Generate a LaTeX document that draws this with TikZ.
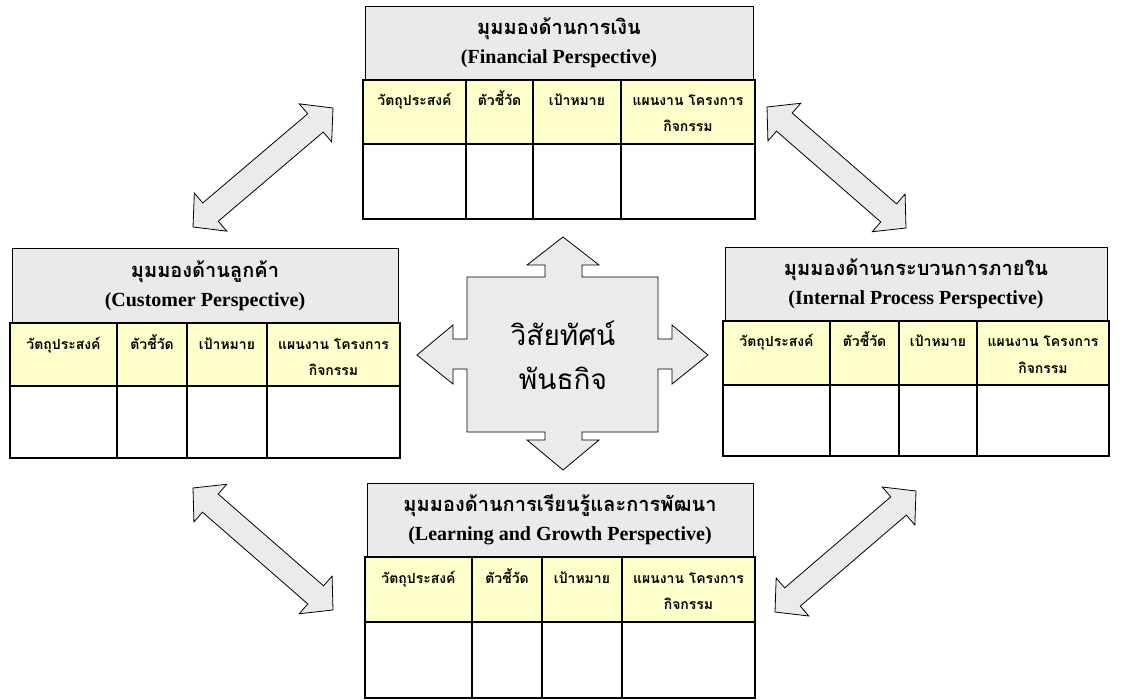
\documentclass[tikz,border=0pt]{standalone}
\usepackage{fontspec}
\setmainfont{Liberation Serif}
\newfontfamily\thaifont[Script=Thai]{Loma}
\usetikzlibrary{calc}
\definecolor{hdrgray}{HTML}{EAEAEA}
\definecolor{arrgray}{HTML}{EBEBEB}
\definecolor{hdryellow}{HTML}{FFFFCC}
\tikzset{
  hdrbox/.style={draw=black,line width=0.9pt,fill=hdrgray},
  outerline/.style={draw=black,line width=2.6pt},
  innerline/.style={draw=black,line width=1.4pt},
  titletext/.style={align=center,inner sep=0pt,font=\fontsize{20}{29}\selectfont\bfseries},
  cellhead/.style={anchor=base,inner sep=0pt,font=\thaifont\fontsize{14}{26}\selectfont\bfseries},
  bigarrow/.style={draw=black,line width=0.8pt,fill=arrgray,line join=miter},
  visiontext/.style={align=center,inner sep=0pt,font=\thaifont\fontsize{28}{44}\selectfont}
}
\def\bscsplit#1/#2/#3\relax{\def\ca{#1}\def\cb{#2}\def\cc{#3}}
% #1 name #2 x1 #3 x2 #4 header top #5 table top #6 row bottom #7 table bottom #8 c1/c2/c3 #9 title
\newcommand\bscpanel[9]{%
  \bscsplit#8\relax
  \path[hdrbox] ({#2+2},#4) rectangle ({#3-2},#5);
  \node[titletext] (#1-title) at ({(#2+#3)/2},{(#4+#5)/2}) {#9};
  \path[fill=hdryellow] (#2,#5) rectangle (#3,#6);
  \draw[innerline] (#2,#6) -- (#3,#6);
  \draw[innerline] (\ca,#5) -- (\ca,#7);
  \draw[innerline] (\cb,#5) -- (\cb,#7);
  \draw[innerline] (\cc,#5) -- (\cc,#7);
  \draw[outerline] (#2,#5) rectangle (#3,#7);
  \node[cellhead] (#1-obj) at ({(#2+\ca)/2},{#5+26}) {วัตถุประสงค์};
  \node[cellhead] (#1-kpi) at ({(\ca+\cb)/2},{#5+26}) {ตัวชี้วัด};
  \node[cellhead] (#1-tgt) at ({(\cb+\cc)/2},{#5+26}) {เป้าหมาย};
  \node[cellhead] (#1-plan) at ({(\cc+#3)/2},{#5+26}) {แผนงาน โครงการ};
  \node[cellhead] (#1-plan2) at ({(\cc+#3)/2},{#5+52}) {กิจกรรม};
}
\newcommand\dblarrow[2]{%
  \path let \p1=($(#2)-(#1)$) in \pgfextra{%
    \pgfmathsetmacro\tmpang{atan2(\y1,\x1)}\global\let\arang\tmpang
    \pgfmathsetmacro\tmplen{veclen(\x1,\y1)}\global\let\arlen\tmplen};
  \begin{scope}[shift={(#1)},rotate=\arang]
    \draw[bigarrow] (0,0) -- (23,25) -- (23,12) -- ({\arlen-23},12) -- ({\arlen-23},25)
      -- (\arlen,0) -- ({\arlen-23},-25) -- ({\arlen-23},-12) -- (23,-12) -- (23,-25) -- cycle;
  \end{scope}}
\begin{document}
\begin{tikzpicture}[x=1pt,y=-1pt]
\useasboundingbox (0,0) rectangle (1121,700);
\fill[white] (0,0) rectangle (1121,700);

\bscpanel{fin}{363}{755}{6}{80}{144}{219}{466/533/621}{{\thaifont มุมมองด้านการเงิน}\\(Financial Perspective)}
\bscpanel{cus}{10}{400}{248}{323}{386}{458}{117/187/267}{{\thaifont มุมมองด้านลูกค้า}\\(Customer Perspective)}
\bscpanel{int}{723}{1109}{247}{321}{385}{456}{830/899/977}{{\thaifont มุมมองด้านกระบวนการภายใน}\\(Internal Process Perspective)}
\bscpanel{lrn}{365}{755}{483}{557}{622}{698}{472/542/622}{{\thaifont มุมมองด้านการเรียนรู้และการพัฒนา}\\(Learning and Growth Perspective)}

% central four-way arrow
\draw[bigarrow] (467,277) -- (545,277) -- (545,265) -- (527,265) -- (563,237) -- (599,265) -- (582,265) -- (582,277)
  -- (658,277) -- (658,339) -- (672,339) -- (672,325) -- (708,355) -- (672,384) -- (672,369) -- (658,369)
  -- (658,432) -- (582,432) -- (582,440) -- (599,440) -- (563,470) -- (527,440) -- (545,440) -- (545,432)
  -- (467,432) -- (467,369) -- (453,369) -- (453,384) -- (417,355) -- (453,325) -- (453,339) -- (467,339) -- cycle;
\node[visiontext] (vision) at (563,355) {วิสัยทัศน์\\พันธกิจ};

% diagonal double arrows
\coordinate (tl-a) at (193,227); \coordinate (tl-b) at (333,108);
\coordinate (tr-a) at (767,107); \coordinate (tr-b) at (906,228);
\coordinate (bl-a) at (193,488); \coordinate (bl-b) at (333,610);
\coordinate (br-a) at (916,491); \coordinate (br-b) at (775,612);
\dblarrow{tl-a}{tl-b}
\dblarrow{tr-a}{tr-b}
\dblarrow{bl-a}{bl-b}
\dblarrow{br-a}{br-b}
\end{tikzpicture}
\end{document}
